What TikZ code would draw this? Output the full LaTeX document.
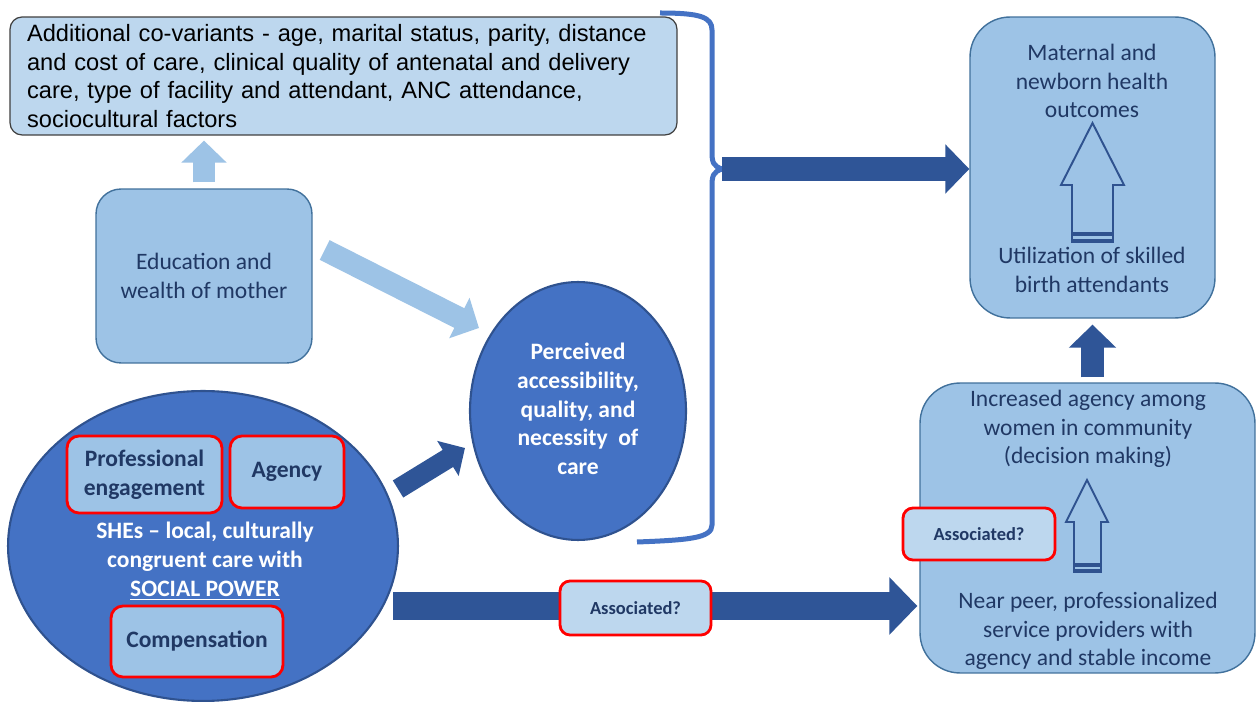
\documentclass[tikz,border=0pt]{standalone}
\usepackage{fontspec}
\setmainfont{Carlito}
\newfontfamily\arialfont{Liberation Sans}
\usepackage{xcolor}
\usepackage{tikz}
\usetikzlibrary{arrows.meta,positioning,shapes.geometric,calc}

\definecolor{boxblue}{HTML}{9DC3E6}
\definecolor{paleblue}{HTML}{BDD7EE}
\definecolor{midblue}{HTML}{4472C4}
\definecolor{edgeblue}{HTML}{2F528F}
\definecolor{linkblue}{HTML}{2F5597}
\definecolor{boxedge}{HTML}{41719C}
\definecolor{navytext}{HTML}{203864}

\begin{document}
\begin{tikzpicture}[
    x=0.02cm, y=-0.02cm,
    every node/.style={font=\fontsize{13.4}{16.4}\selectfont},
    lightbox/.style={draw=boxedge, fill=boxblue, line width=0.8pt},
    bodytext/.style={text=navytext, align=center, inner sep=0pt},
    bigoval/.style={ellipse, draw=edgeblue, fill=midblue, line width=1.2pt, inner sep=0pt},
    ovaltext/.style={text=white, align=center, inner sep=0pt, font=\fontsize{13.4}{16.4}\selectfont\bfseries},
    redbox/.style={draw=red, fill=boxblue, line width=1.6pt, rounded corners=0.24cm, inner sep=0pt, text=navytext, align=center, font=\fontsize{13.4}{16.4}\selectfont\bfseries},
    asktag/.style={redbox, fill=paleblue, rounded corners=0.2cm, font=\fontsize{10.5}{12}\selectfont\bfseries},
    fatarrow/.style={line width=#1, -{Triangle[length=0pt 1 0, width=0pt 2 0]}},
    bracketline/.style={draw=midblue, line width=0.1cm},
    hollow/.style={draw=edgeblue, fill=boxblue, line width=1.1pt, line join=miter},
    hollowbar/.style={draw=edgeblue, line width=2pt}
]
\useasboundingbox (0,0) rectangle (1259,702);
\fill[white] (0,0) rectangle (1259,702);

\node[draw=black!75, fill=paleblue, line width=0.7pt, rounded corners=0.24cm, minimum width=13.34cm, minimum height=2.36cm, text width=12.66cm, inner xsep=0.34cm, align=left, font=\arialfont\fontsize{13.45}{16.4}\selectfont] (covar) at (343.5,76) {Additional co-variants - age, marital status, parity, distance\\and cost of care, clinical quality of antenatal and delivery\\care, type of facility and attendant, ANC attendance,\\sociocultural factors};

\node[lightbox, rounded corners=0.5cm, minimum width=4.32cm, minimum height=3.48cm, text=navytext, align=center] (edu) at (204,276) {Education and\\wealth of mother};

\node[bigoval, minimum width=4.32cm, minimum height=5.16cm] (perc) at (578,411) {};
\node[ovaltext] (perctext) at (578,409) {Perceived\\accessibility,\\quality, and\\necessity \ of\\care};

\node[bigoval, minimum width=7.8cm, minimum height=6.2cm] (she) at (203,546) {};
\node[ovaltext] (shetext) at (205,561) {SHEs – local, culturally\\congruent care with\\\underline{SOCIAL POWER}};
\node[redbox, minimum width=3.1cm, minimum height=1.54cm] (prof) at (144.5,474.5) {Professional\\engagement};
\node[redbox, minimum width=2.28cm, minimum height=1.44cm] (agency) at (287,472) {Agency};
\node[redbox, minimum width=3.44cm, minimum height=1.42cm] (comp) at (197,641.5) {Compensation};

\node[lightbox, rounded corners=0.8cm, minimum width=4.9cm, minimum height=6.02cm] (mat) at (1092.5,167.5) {};
\node[bodytext] (outcome) at (1092,81) {Maternal and\\newborn health\\outcomes};
\node[bodytext] (sba) at (1092,270) {Utilization of skilled\\birth attendants};

\node[lightbox, rounded corners=0.8cm, minimum width=6.7cm, minimum height=5.8cm] (near) at (1087.5,528) {};
\node[bodytext] (womenagency) at (1088,429) {Increased agency among\\women in community\\(decision making)};
\node[bodytext] (peer) at (1088,631) {Near peer, professionalized\\service providers with\\agency and stable income};

\draw[hollow] (1092.5,123) -- (1124,185) -- (1113,185) -- (1113,242) -- (1072,242) -- (1072,185) -- (1061,185) -- cycle;
\draw[hollowbar] (1072,234) -- (1113,234);
\draw[hollowbar] (1072,241) -- (1113,241);
\draw[hollow] (1087,480) -- (1108,522) -- (1101,522) -- (1101,572) -- (1074,572) -- (1074,522) -- (1066,522) -- cycle;
\draw[hollowbar] (1074,565) -- (1101,565);
\draw[hollowbar] (1074,571) -- (1101,571);

\draw[bracketline] (660,13) .. controls (700,13) and (712,17) .. (712,30) -- (712,152) .. controls (712,162) and (713,166) .. (722,169) coordinate (bracetip) .. controls (713,172) and (712,176) .. (712,186) -- (712,525) .. controls (712,538) and (690,540) .. (637,542);

\draw[fatarrow=0.44cm, color=boxblue] ([shift={(0,-6)}]edu.north) -- ($(edu.north |- covar.south)+(0,5)$);
\draw[fatarrow=0.44cm, color=boxblue] ([shift={(12,-26)}]edu.east) -- ([shift={(10,-83)}]perc.west);
\draw[fatarrow=0.4cm, color=linkblue] ([shift={(-1,-57)}]she.east) -- ([shift={(-4,37)}]perc.west);
\draw[fatarrow=0.56cm, color=linkblue] ([shift={(-6,60)}]she.east) -- ([shift={(-2,78)}]near.west);
\draw[fatarrow=0.48cm, color=linkblue] (bracetip) -- (bracetip -| mat.west);
\draw[fatarrow=0.46cm, color=linkblue] ($(mat.south |- near.north)+(0,-5)$) -- ($(mat.south)+(0,6)$);

\node[asktag, minimum width=3.02cm, minimum height=1.08cm] (ask1) at (635.5,608) {Associated?};
\node[asktag, minimum width=3.04cm, minimum height=1.04cm] (ask2) at (979,534) {Associated?};
\end{tikzpicture}
\end{document}
